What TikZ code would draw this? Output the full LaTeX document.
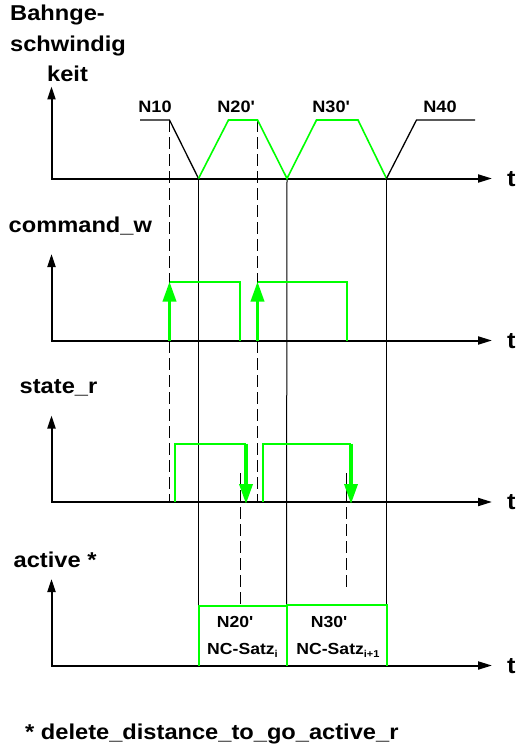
\documentclass[tikz,border=0pt]{standalone}
\usepackage{fontspec}
\setmainfont{Liberation Sans}[FakeStretch=1.1]
\usetikzlibrary{arrows.meta}
\definecolor{grn}{RGB}{0,255,0}
\newcommand{\mysub}[1]{\raisebox{-3.5pt}{\fontsize{10}{10}\selectfont #1}}
\begin{document}
\begin{tikzpicture}[x=1pt,y=-1pt,
  axes/.style={line width=2pt,line join=miter,
    {Triangle[length=13pt,width=8pt]}-{Triangle[length=14pt,width=8pt]}},
  prof/.style={line width=1.3pt},
  gprof/.style={line width=1.6pt,grn},
  guide/.style={line width=1pt},
  dguide/.style={line width=1pt,dash pattern=on 12pt off 5pt},
  sig/.style={line width=2pt,grn},
  sigarrow/.style={line width=3.5pt,grn,-{Triangle[length=20pt,width=13pt]}},
  lab/.style={font=\bfseries\fontsize{21.5}{21.5}\selectfont,inner sep=0pt,anchor=base west},
  nlab/.style={font=\bfseries\fontsize{16.5}{16.5}\selectfont,inner sep=0pt,anchor=base},
  tlab/.style={font=\bfseries\fontsize{23}{23}\selectfont,inner sep=0pt,anchor=base west},
  blab/.style={font=\bfseries\fontsize{16}{16}\selectfont,inner sep=0pt,anchor=base},
]
\useasboundingbox (0,0) rectangle (527,749);
\fill[white] (0,0) rectangle (527,749);

% axis coordinates
\foreach \n/\y/\t in {A/178.5/86.5, B/340.5/254, C/502/415.5, D/665.5/579}{
  \coordinate (o\n) at (51.5,\y);
  \coordinate (y\n) at (51.5,\t);
  \coordinate (x\n) at (492,\y);
}
\draw[axes] (yA) -- (oA) -- (xA);
\draw[axes] (yB) -- (oB) -- (xB);
\draw[axes] (yC) -- (oC) -- (xC);
\draw[axes] (yD) -- (oD) -- (xD);

% speed profile points
\coordinate (p0) at (140,120);
\coordinate (p1) at (169.5,120);
\coordinate (p2) at (198.5,178.5);
\coordinate (p3) at (228.5,120);
\coordinate (p4) at (257.5,120);
\coordinate (p5) at (287,178.5);
\coordinate (p6) at (316.5,120);
\coordinate (p7) at (358,120);
\coordinate (p8) at (386.5,178.5);
\coordinate (p9) at (416.5,120);
\coordinate (p10) at (475,120);

% guide lines
\coordinate (g2) at (198.5,606);
\coordinate (g5) at (286.5,605);
\coordinate (g8) at (386.5,604.5);
\draw[guide] (p2) -- (g2);
\draw[guide] (p5) -- (g5);
\draw[guide] (p8) -- (g8);
\coordinate (d1) at (169.5,502);
\coordinate (d4) at (257.5,502);
\draw[dguide] (p1) -- (d1);
\draw[dguide] (p4) -- (d4);
\coordinate (s1a) at (240,473);
\coordinate (s1b) at (240,606);
\coordinate (s2a) at (346.5,473);
\coordinate (s2b) at (346.5,591);
\draw[dguide] (s1a) -- (s1b);
\draw[dguide] (s2a) -- (s2b);

\draw[prof] (p0) -- (p1) -- (p2);
\draw[gprof] (p2) -- (p3) -- (p4) -- (p5) -- (p6) -- (p7) -- (p8);
\draw[prof] (p8) -- (p9) -- (p10);

% command_w
\coordinate (c1b) at (169.5,341);
\coordinate (c1t) at (169.5,281.5);
\coordinate (c1r) at (240,281.5);
\coordinate (c1e) at (240,340.5);
\coordinate (c2b) at (257.5,341);
\coordinate (c2t) at (257.5,281.5);
\coordinate (c2r) at (347,281.5);
\coordinate (c2e) at (347,340.5);
\draw[sig] (c1t) -- (c1r) -- (c1e);
\draw[sig] (c2t) -- (c2r) -- (c2e);
\draw[sigarrow] (c1b) -- (c1t);
\draw[sigarrow] (c2b) -- (c2t);

% state_r
\coordinate (r1b) at (174.5,502);
\coordinate (r1t) at (174.5,443.5);
\coordinate (r1r) at (246,443.5);
\coordinate (r1e) at (246,504);
\coordinate (r2b) at (263,502);
\coordinate (r2t) at (263,443.5);
\coordinate (r2r) at (351,443.5);
\coordinate (r2e) at (351,504);
\draw[sig] (r1b) -- (r1t) -- (r1r);
\draw[sig] (r2b) -- (r2t) -- (r2r);
\draw[sigarrow] (r1r) -- (r1e);
\draw[sigarrow] (r2r) -- (r2e);

% active boxes
\coordinate (a0) at (198.5,665.5);
\coordinate (a1) at (286.5,665.5);
\coordinate (a2) at (386.5,665.5);
\draw[sig] (a0) -- (g2) -- (286.5,606) -- (a1);
\draw[sig] (a1) -- (g5) -- (286.5,604.5) -- (g8) -- (a2);

% labels
\node[lab] (l1a) at (10,21) {Bahnge-};
\node[lab] (l1b) at (10,52) {schwindig};
\node[lab] (l1c) at (47,82) {keit};
\node[lab] (l2) at (8.5,232) {command\_w};
\node[lab] (l3) at (19.5,393.5) {state\_r};
\node[lab] (l4) at (13.5,567) {active *};
\node[lab] (fn) at (25,739) {* delete\_distance\_to\_go\_active\_r};

\node[tlab] (tA) at (507,186) {t};
\node[tlab] (tB) at (507,348) {t};
\node[tlab] (tC) at (507,509.5) {t};
\node[tlab] (tD) at (507,673) {t};

\node[nlab] (n10) at (155,112.5) {N10};
\node[nlab] (n20) at (236,112.5) {N20\textquotesingle};
\node[nlab] (n30) at (331,112.5) {N30\textquotesingle};
\node[nlab] (n40) at (440,112.5) {N40};

\node[blab] (b1a) at (235,627) {N20\textquotesingle};
\node[blab] (b1b) at (242.5,654) {NC-Satz\mysub{i}};
\node[blab] (b2a) at (329,627) {N30\textquotesingle};
\node[blab] (b2b) at (338,654) {NC-Satz\mysub{i+1}};
\end{tikzpicture}
\end{document}
